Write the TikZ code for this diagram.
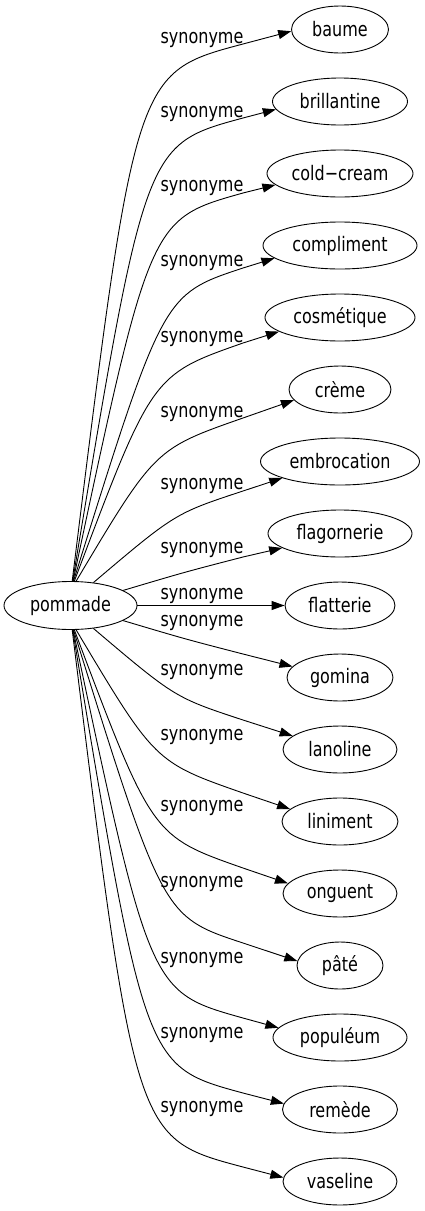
\documentclass[tikz,border=0pt]{standalone}
\usepackage{fontspec}
\setmainfont{DejaVu Sans}[FakeStretch=0.8]
\usetikzlibrary{arrows.meta,shapes.geometric}
\begin{document}
\begin{tikzpicture}[x=1pt,y=-1pt,
  every node/.style={font=\fontsize{20}{24}\selectfont},
  term/.style={draw, ellipse, line width=0.9pt, minimum height=47pt, inner sep=0pt},
  lbl/.style={inner sep=0pt},
  edge/.style={line width=0.9pt, -{Triangle[length=13pt,width=9pt]}}]
\useasboundingbox (0,0) rectangle (425,1211);
\node[term, minimum width=133pt, minimum height=48pt] (pommade) at (70.5,605.5) {pommade};
\node[term, minimum width=97pt]  (baume)       at (340,29.5)   {baume};
\node[term, minimum width=135pt] (brillantine) at (340,101.5)  {brillantine};
\node[term, minimum width=146pt] (coldcream)   at (340,173.5)  {cold−cream};
\node[term, minimum width=154pt] (compliment)  at (340,245.5)  {compliment};
\node[term, minimum width=150pt] (cosmetique)  at (340,317.5)  {cosmétique};
\node[term, minimum width=102pt] (creme)       at (340,389.5)  {crème};
\node[term, minimum width=159pt] (embrocation) at (340,461.5)  {embrocation};
\node[term, minimum width=144pt] (flagornerie) at (340,533.5)  {flagornerie};
\node[term, minimum width=110pt] (flatterie)   at (340,605.5)  {flatterie};
\node[term, minimum width=106pt] (gomina)      at (340,677.5)  {gomina};
\node[term, minimum width=114pt] (lanoline)    at (340,749.5)  {lanoline};
\node[term, minimum width=116pt] (liniment)    at (340,821.5)  {liniment};
\node[term, minimum width=114pt] (onguent)     at (340,893.5)  {onguent};
\node[term, minimum width=86pt]  (pate)        at (340,965.5)  {pâté};
\node[term, minimum width=134pt] (populeum)    at (340,1037.5) {populéum};
\node[term, minimum width=115pt] (remede)      at (340,1109.5) {remède};
\node[term, minimum width=114pt] (vaseline)    at (340,1181.5) {vaseline};
% labels
\foreach \k/\yy in {1/40,2/114,3/188,4/263,5/338.5,6/414,7/485.5,8/549.5,9/595.5,10/623,11/672,12/737,13/808,14/884,15/959.5,16/1034.5,17/1108.5}{
  \node[lbl] (lab\k) at (202,\yy) {synonyme};
}
% curved edges
\foreach \n/\as/\cxx/\cyy/\ym/\ty/\rx in {
  baume/86/135/72.6/44/29.5/48.5,
  brillantine/85/145/144.5/118/101.5/67.5,
  coldcream/84/150/219/193/173.5/73,
  compliment/83/163/294.4/268/245.5/77,
  cosmetique/81/152/374.9/343/317.5/75,
  creme/77/155/448.8/418/389.5/51,
  embrocation/45/175/513.4/491/461.5/79.5,
  flagornerie/16/185/572/557/533.5/72,
  gomina/-16/185/639/654/677.5/53,
  lanoline/-45/175/697.6/720/749.5/57,
  liniment/-77/155/762.2/793/821.5/58,
  onguent/-81/152/836.1/868/893.5/57,
  pate/-83/163/916.6/943/965.5/43,
  populeum/-84/150/992/1018/1037.5/67,
  remede/-85/145/1066.5/1093/1109.5/57.5,
  vaseline/-86/135/1138.4/1167/1181.5/57}{
  \edef\eS{\fpeval{(\ym-\cyy)/(243-\cxx)}}
  \edef\eA{\fpeval{243-340}}
  \edef\eB{\fpeval{\ym-\ty}}
  \edef\eK{\fpeval{(\rx/23.5)^2}}
  \edef\eAA{\fpeval{1+\eS*\eS*\eK}}
  \edef\eBB{\fpeval{\eA+\eB*\eS*\eK}}
  \edef\eCC{\fpeval{\eA*\eA+\eB*\eB*\eK-\rx*\rx}}
  \edef\eU{\fpeval{(-\eBB-sqrt(\eBB*\eBB-\eAA*\eCC))/\eAA}}
  \edef\eAng{\fpeval{round(atand(-(\eB+\eS*\eU), \eA+\eU),2)}}
  \draw[edge] (pommade.\as) .. controls (\cxx,\cyy) .. (243,\ym) -- (\n.\eAng);
}
\draw[edge] (pommade) -- (flatterie);
\end{tikzpicture}
\end{document}
